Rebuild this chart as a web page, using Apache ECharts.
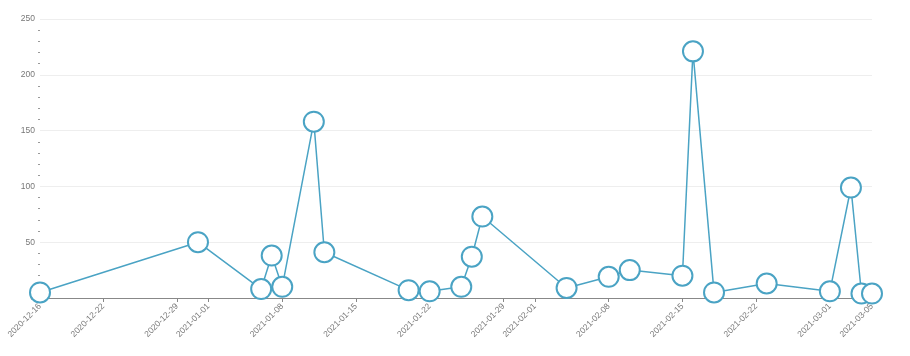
<!DOCTYPE html>
<html>
<head>
<meta charset="utf-8">
<style>html,body{margin:0;padding:0;background:#fff;}#chart{width:910px;height:356px;}</style>
<script src="https://cdn.jsdelivr.net/npm/echarts@6/dist/echarts.min.js"></script>
</head>
<body>
<div id="chart"></div>
<script>
var dates = ['2020-12-16','2020-12-31','2021-01-06','2021-01-07','2021-01-08','2021-01-11','2021-01-12',
  '2021-01-20','2021-01-22','2021-01-25','2021-01-26','2021-01-27','2021-02-04','2021-02-08','2021-02-10',
  '2021-02-15','2021-02-16','2021-02-18','2021-02-23','2021-03-01','2021-03-03','2021-03-04','2021-03-05'];
var values = [5, 50, 8, 38, 10, 158, 41, 7, 6, 10, 37, 73, 9, 19, 25, 20, 221, 5, 13, 6, 99, 4, 4];
var xMin = '2020-12-16';
var xMax = '2021-03-05';
var yTicks = [0, 50, 100, 150, 200, 250];

var chart = echarts.init(document.getElementById('chart'));
function pad(n){return n<10?'0'+n:''+n;}
chart.setOption({
  animation: false,
  backgroundColor: '#fff',
  textStyle: {fontFamily: 'Liberation Sans, Arial, sans-serif'},
  grid: {left: 40, right: 38, top: 19, bottom: 58, containLabel: false},
  xAxis: {
    type: 'time',
    min: xMin,
    max: xMax,
    axisLine: {lineStyle: {color: '#888', width: 1}},
    axisTick: {show: true, length: 4, lineStyle: {color: '#888'}},
    splitLine: {show: false},
    axisLabel: {
      rotate: 45, fontSize: 8.5, color: '#777', margin: 7, showMinLabel: true, showMaxLabel: true,
      fontFamily: 'Liberation Sans, Arial, sans-serif',
      formatter: function(v){var d=new Date(v);return d.getFullYear()+'-'+pad(d.getMonth()+1)+'-'+pad(d.getDate());}
    }
  },
  yAxis: {
    type: 'value',
    min: yTicks[0], max: yTicks[yTicks.length-1], interval: 50,
    axisLine: {show: false},
    axisTick: {show: false},
    minorTick: {show: true, splitNumber: 5, length: 2, lineStyle: {color: '#999'}},
    splitLine: {lineStyle: {color: '#eee'}},
    axisLabel: {fontSize: 8.5, color: '#777', margin: 5, fontFamily: 'Liberation Sans, Arial, sans-serif'}
  },
  series: [{
    type: 'line',
    data: dates.map(function(d,i){return [d, values[i]];}),
    symbol: 'emptyCircle',
    symbolSize: 20,
    itemStyle: {color: '#4aa3c4', borderWidth: 1.5},
    lineStyle: {color: '#4aa3c4', width: 1.5}
  }]
});
</script>
</body>
</html>
